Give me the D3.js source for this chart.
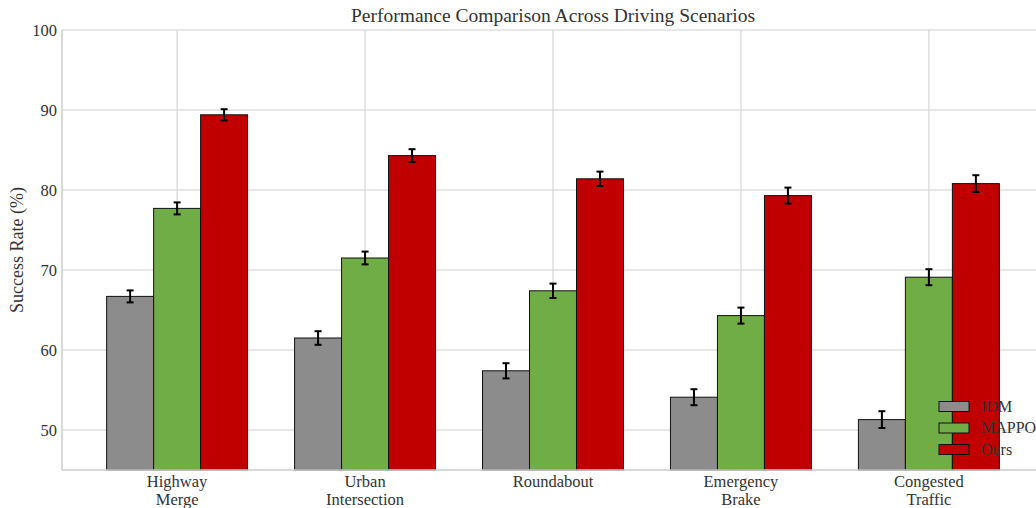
<!DOCTYPE html>
<html><head><meta charset="utf-8">
<script src="https://cdn.jsdelivr.net/npm/d3@7"></script>
<style>html,body{margin:0;padding:0;background:#fff;overflow:hidden}
svg text{font-family:"Liberation Serif","Times New Roman",Times,serif;}</style>
</head><body>
<svg id="chart" width="1036" height="508"></svg>
<script>
const categories = [["Highway","Merge"],["Urban","Intersection"],["Roundabout"],["Emergency","Brake"],["Congested","Traffic"]];
const seriesNames = ["IDM","MAPPO","Ours"];
const seriesColors = ["#8c8c8c","#70ad47","#c00000"];
const idmValues = [66.7, 61.5, 57.4, 54.1, 51.3];
const mappoValues = [77.7, 71.5, 67.4, 64.3, 69.1];
const oursValues = [89.4, 84.3, 81.4, 79.3, 80.8];
const idmErr = [0.75, 0.85, 0.95, 1.0, 1.05];
const mappoErr = [0.75, 0.8, 0.9, 1.0, 1.0];
const oursErr = [0.7, 0.8, 0.9, 1.0, 1.05];
const yTicks = [50, 60, 70, 80, 90, 100];

const values = [idmValues, mappoValues, oursValues];
const errs = [idmErr, mappoErr, oursErr];
const barW = 0.25;

const svg = d3.select("#chart");
const L = 62, T = 30, B = 470, R = 1044;
const x = d3.scaleLinear().domain([-0.6125, 4.6125]).range([L, R]);
const y = d3.scaleLinear().domain([45, 100]).range([B, T]);

// grid
svg.append("g").selectAll("line").data(yTicks).join("line")
  .attr("x1", L).attr("x2", R).attr("y1", d => y(d)).attr("y2", d => y(d))
  .attr("stroke", "#cfcfcf").attr("stroke-width", 1.2);
svg.append("g").selectAll("line").data(categories).join("line")
  .attr("x1", (d,i) => x(i)).attr("x2", (d,i) => x(i)).attr("y1", T).attr("y2", B)
  .attr("stroke", "#d6d6d6").attr("stroke-width", 1.2);

// bars
values.forEach((vals, s) => {
  svg.append("g").selectAll("rect").data(vals).join("rect")
    .attr("x", (d,i) => x(i + (s-1)*barW - barW/2))
    .attr("width", x(barW) - x(0))
    .attr("y", d => y(d))
    .attr("height", d => B - y(d))
    .attr("fill", seriesColors[s])
    .attr("stroke", "#111").attr("stroke-width", 1);
});
// error bars
values.forEach((vals, s) => {
  const g = svg.append("g").attr("stroke", "#000").attr("stroke-width", 2);
  vals.forEach((v, i) => {
    const cx = x(i + (s-1)*barW), e = errs[s][i];
    g.append("line").attr("x1", cx).attr("x2", cx).attr("y1", y(v+e)).attr("y2", y(v-e));
    g.append("line").attr("x1", cx-3.5).attr("x2", cx+3.5).attr("y1", y(v+e)).attr("y2", y(v+e));
    g.append("line").attr("x1", cx-3.5).attr("x2", cx+3.5).attr("y1", y(v-e)).attr("y2", y(v-e));
  });
});

// spines
svg.append("line").attr("x1", L).attr("x2", L).attr("y1", T).attr("y2", B).attr("stroke", "#cccccc").attr("stroke-width", 1.5);
svg.append("line").attr("x1", L).attr("x2", R).attr("y1", B).attr("y2", B).attr("stroke", "#cccccc").attr("stroke-width", 1.5);

// y ticks
svg.append("g").selectAll("text").data(yTicks).join("text")
  .attr("x", 57).attr("y", d => y(d)).attr("dy", "0.35em")
  .attr("text-anchor", "end").attr("font-size", 16.5).attr("fill", "#333")
  .text(d => d);
// x labels
categories.forEach((lines, i) => {
  const t = svg.append("text").attr("x", x(i)).attr("y", 487).attr("text-anchor", "middle")
    .attr("font-size", 16.5).attr("fill", "#333");
  lines.forEach((ln, k) => t.append("tspan").attr("x", x(i)).attr("dy", k ? 17.5 : 0).text(ln));
});
// y label
svg.append("text").attr("transform", "translate(23,250) rotate(-90)").attr("text-anchor", "middle")
  .attr("font-size", 18).attr("fill", "#333").text("Success Rate (%)");
// title
svg.append("text").attr("x", 553).attr("y", 22).attr("text-anchor", "middle")
  .attr("font-size", 19.5).attr("fill", "#333").text("Performance Comparison Across Driving Scenarios");

// legend
const lg = svg.append("g");
seriesNames.forEach((n, s) => {
  const yy = 406 + s*21.5;
  lg.append("rect").attr("x", 939).attr("y", yy-4.5).attr("width", 30).attr("height", 10)
    .attr("fill", seriesColors[s]).attr("stroke", "#111").attr("stroke-width", 1);
  lg.append("text").attr("x", 981).attr("y", yy).attr("dy", "0.35em")
    .attr("font-size", 16).attr("fill", "#333").text(n);
});
</script>
</body></html>
